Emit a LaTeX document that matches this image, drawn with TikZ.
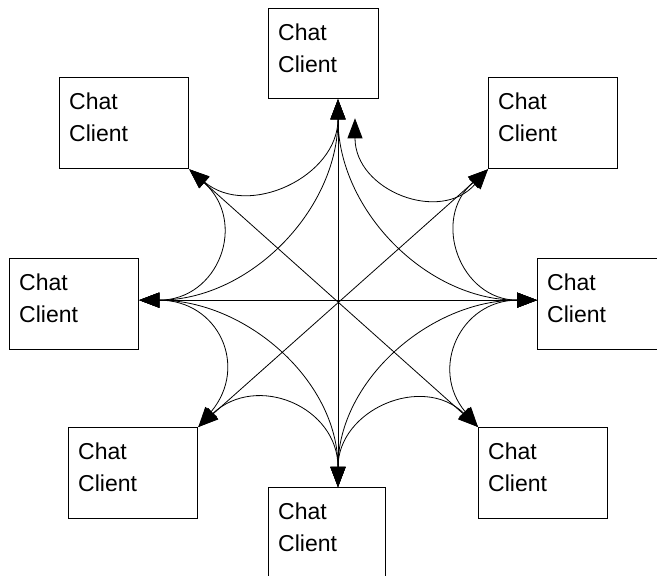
\documentclass[tikz,border=0pt]{standalone}
\usepackage{fontspec}
\setmainfont{Liberation Sans}
\usetikzlibrary{arrows.meta}

\begin{document}
\begin{tikzpicture}[x=1pt,y=1pt,
    client/.style={draw,line width=1.3pt,minimum width=129pt,%
      minimum height=91pt,inner sep=0pt,anchor=north west},
    clientlabel/.style={anchor=north west,align=left,inner sep=0pt,%
      font=\fontsize{23}{32}\selectfont},
    link/.style={line width=0.8pt,%
      {Triangle[length=20pt,width=15pt]}-{Triangle[length=20pt,width=15pt]}}]
  \useasboundingbox (0,0) rectangle (657,576);
  \clip (0,0) rectangle (657,576);
  % the eight clients
  \node[client,minimum width=110pt,minimum height=90pt] (ct) at (268,568) {};
  \node[client] (ctl) at (59,499) {};
  \node[client] (ctr) at (488,499) {};
  \node[client] (cl) at (9,318) {};
  \node[client] (cr) at (537,318) {};
  \node[client] (cbl) at (68,149) {};
  \node[client] (cbr) at (478,149) {};
  \node[client,minimum width=117pt] (cb) at (268,89) {};
  \foreach \c in {ct,ctl,ctr,cl,cr,cbl,cbr,cb}
    \node[clientlabel] (\c-txt) at ([shift={(10,-16)}]\c.north west) {Chat\\Client};
  % glue points
  \coordinate (pt) at ([xshift=70]ct.south west);
  \coordinate (pb) at ([xshift=70]cb.north west);
  \coordinate (pl) at ([yshift=4]cl.east);
  \coordinate (pr) at ([yshift=4]cr.west);
  % straight links through the middle
  \draw[link] (pt) -- (pb);
  \draw[link] (pl) -- (pr);
  \draw[link] (ctl.south east) -- (cbr.north west);
  \draw[link] (ctr.south west) -- (cbl.north east);
  % quarter arcs
  \draw[link] (pt) to[out=-90,in=0] (pl);
  \draw[link] (pt) to[out=-90,in=180] (pr);
  \draw[link] (pb) to[out=90,in=0] (pl);
  \draw[link] (pb) to[out=90,in=180] (pr);
  % arcs between neighbours
  \draw[link] (pt) to[out=-90,in=-40,looseness=1.2] (ctl.south east);
  \draw[link] (ctl.south east) to[out=-42,in=0,looseness=1.45] (pl);
  \draw[link] (pl) to[out=0,in=50,looseness=1.45] (cbl.north east);
  \draw[link] (cbl.north east) to[out=43,in=90,looseness=1.35] (pb);
  \draw[link] ([shift={(17,-19)}]pt) to[out=-90,in=-131,looseness=1.3] (ctr.south west);
  \draw[link] (ctr.south west) to[out=-139,in=180,looseness=1.4] (pr);
  \draw[link] (pr) to[out=180,in=130,looseness=1.4] (cbr.north west);
  \draw[link] (cbr.north west) to[out=136,in=90,looseness=1.3] (pb);
\end{tikzpicture}
\end{document}
